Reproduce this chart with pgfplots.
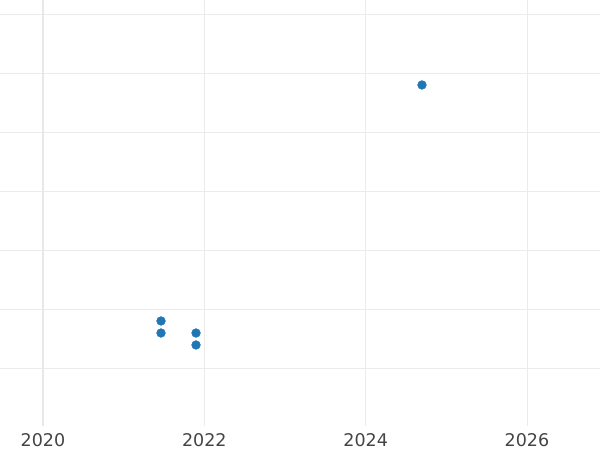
\documentclass[border=0pt]{standalone}
\usepackage{pgfplots}
\pgfplotsset{compat=1.18}
\usepackage{fontspec}
\setmainfont{DejaVu Sans}
\definecolor{gridc}{HTML}{EBEBEB}
\definecolor{zeroc}{HTML}{E8E8E8}
\definecolor{ptc}{HTML}{1F77B4}
\definecolor{txtc}{HTML}{444444}
\begin{document}
\begin{tikzpicture}
\useasboundingbox (0pt,0pt) rectangle (600pt,450pt);
\begin{axis}[
  at={(0pt,450pt)}, anchor=north west,
  scale only axis, width=600pt, height=426pt,
  xmin=2019.467, xmax=2026.905,
  ymin=0.017, ymax=7.237,
  axis line style={draw=none},
  xtick={2020,2022,2024,2026},
  xticklabel style={font=\fontsize{17.5}{20}\selectfont, text=txtc, yshift=-4pt},
  xticklabel={\pgfmathprintnumber[1000 sep={},fixed]{\tick}},
  /pgf/number format/assume math mode=true,
  ytick={1,2,3,4,5,6,7},
  yticklabels={},
  tick style={draw=none},
  xmajorgrids, ymajorgrids,
  grid style={gridc, line width=0.8pt},
  clip=false,
]
\draw[zeroc, line width=1.5pt] (axis cs:2020,0.017) -- (axis cs:2020,7.237);
\addplot[only marks, mark=*, mark size=4.4pt, mark options={fill=ptc, draw=ptc, line width=0.4pt}] coordinates {
  (2021.463,1.797) (2021.463,1.593) (2021.897,1.593) (2021.897,1.390) (2024.698,5.797)
};
\end{axis}
\end{tikzpicture}
\end{document}
